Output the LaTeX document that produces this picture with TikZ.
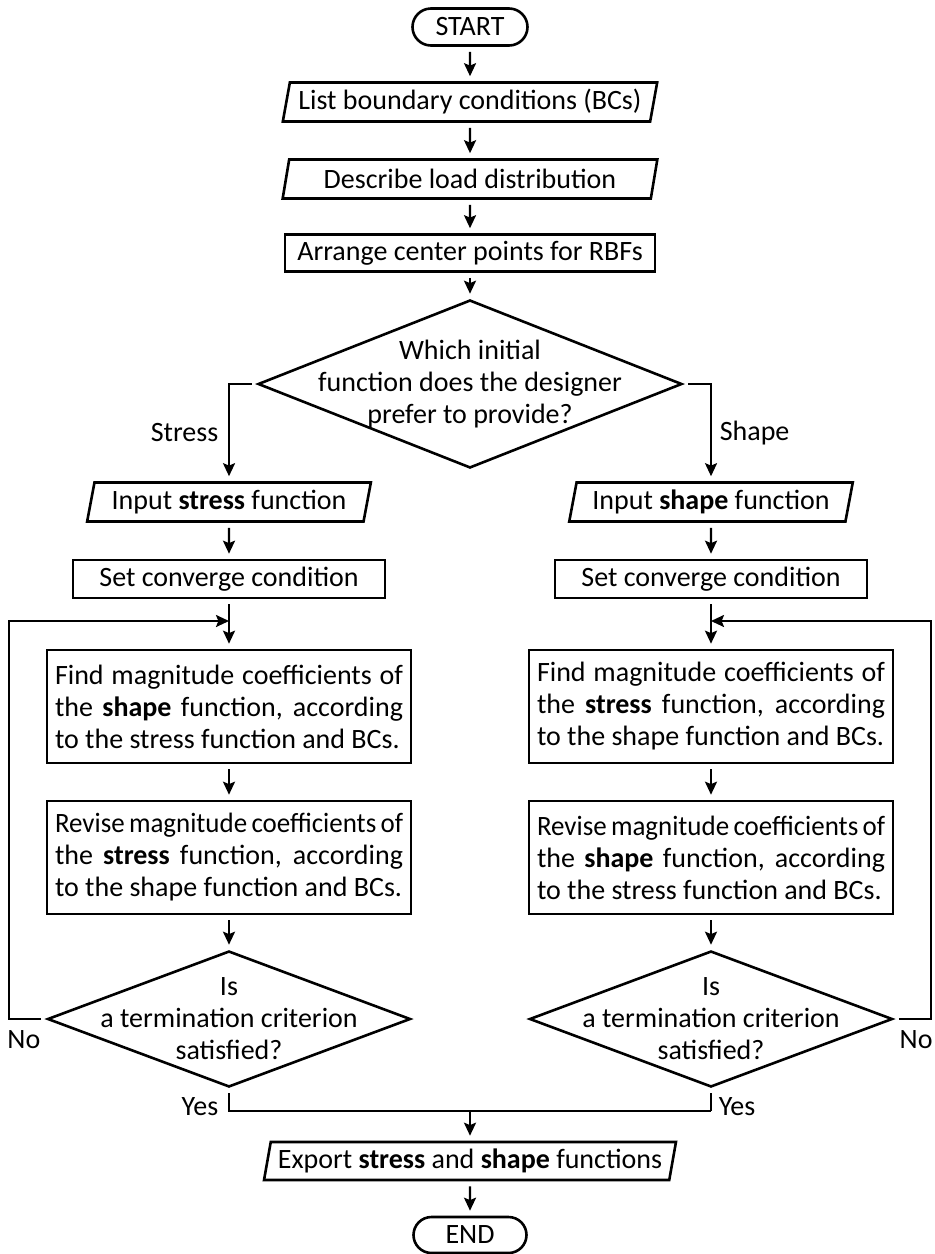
\documentclass[tikz,border=0pt]{standalone}
\usepackage{fontspec}
\setmainfont{Carlito}
\usetikzlibrary{shapes.geometric,shapes.misc,arrows.meta}
\newcommand{\fitline}[1]{\resizebox{\linewidth}{\height}{\spaceskip=0.16em\relax #1}}
\begin{document}
\begin{tikzpicture}[x=0.5pt,y=-0.5pt,
  font=\fontsize{14}{16}\selectfont,
  term/.style={draw, rounded rectangle, minimum width=57.5pt, minimum height=18.5pt, line width=1.3pt, inner sep=0pt},
  io/.style={draw, trapezium, trapezium left angle=75, trapezium right angle=105, trapezium stretches=true, line width=1.3pt, minimum height=19.5pt, inner sep=0pt},
  proc/.style={draw, rectangle, line width=1.3pt, minimum height=19pt, inner sep=0pt},
  bigproc/.style={draw, rectangle, line width=1.3pt, minimum height=56.5pt, minimum width=182pt, text width=174pt, inner xsep=4pt, inner ysep=0pt, align=justify, execute at begin node={\hyphenpenalty=10000\relax}},
  dec/.style={draw, diamond, line width=1.3pt, inner sep=0pt},
  arr/.style={-{Stealth[length=6.5pt,width=6pt,inset=1.2pt]}, line width=1.1pt, shorten >=2.5pt, shorten <=2.5pt},
  lin/.style={line width=1.1pt}]
\useasboundingbox (0,0) rectangle (934,1254);
\node[term] (start) at (470,27) {START};
\node[io, minimum width=187.5pt] (p1) at (470,102) {List boundary conditions (BCs)};
\node[io, minimum width=187.5pt] (p2) at (470,179) {Describe load distribution};
\node[proc, minimum width=185pt, minimum height=18.5pt] (arrange) at (470,253) {Arrange center points for RBFs};
\node[dec, minimum width=212pt, minimum height=84pt,
  label={[align=center]center:{Which initial\\function does the designer\\prefer to provide?}}] (d1) at (470,384) {};
\node[io, minimum width=142pt] (in1) at (229,502) {Input \textbf{stress} function};
\node[io, minimum width=142pt] (in2) at (711,502) {Input \textbf{shape} function};
\node[proc, minimum width=156pt] (sc1) at (229,579) {Set converge condition};
\node[proc, minimum width=156pt] (sc2) at (711,579) {Set converge condition};
\coordinate (j1) at (229,621);
\coordinate (j2) at (711,621);
\node[bigproc] (f1) at (229,706.5) {Find magnitude coefficients of\linebreak the \textbf{shape} function, according\linebreak to the stress function and BCs.};
\node[bigproc] (f2) at (711,706.5) {Find magnitude coefficients of\linebreak the \textbf{stress} function, according\linebreak to the shape function and BCs.};
\node[bigproc] (r1) at (229,857.5) {\fitline{Revise magnitude coefficients of}\linebreak the \textbf{stress} function, according\linebreak to the shape function and BCs.};
\node[bigproc] (r2) at (711,857.5) {\fitline{Revise magnitude coefficients of}\linebreak the \textbf{shape} function, according\linebreak to the stress function and BCs.};
\node[dec, minimum width=181.5pt, minimum height=68pt,
  label={[align=center]center:{Is\\a termination criterion\\satisfied?}}] (d2) at (229,1019) {};
\node[dec, minimum width=181.5pt, minimum height=68pt,
  label={[align=center]center:{Is\\a termination criterion\\satisfied?}}] (d3) at (711,1019) {};
\coordinate (m) at (470,1111);
\node[io, minimum width=206pt, minimum height=19pt] (exp) at (470,1161) {Export \textbf{stress} and \textbf{shape} functions};
\node[term, minimum width=56.5pt, minimum height=18pt] (end) at (470,1235) {END};
\coordinate (cl) at (9,1019);
\coordinate (cr) at (931,1019);
% connectors
\draw[arr] (start) -- (p1);
\draw[arr] (p1) -- (p2);
\draw[arr] (p2) -- (arrange);
\draw[arr] (arrange) -- (d1);
\draw[arr] (d1.west) -| node[pos=0.75, left=1.5pt] {Stress} (in1.north);
\draw[arr] (d1.east) -| node[pos=0.75, right=0.5pt] {Shape} (in2.north);
\draw[arr] (in1) -- (sc1);
\draw[arr] (in2) -- (sc2);
\draw[arr] (sc1) -- (f1);
\draw[arr] (sc2) -- (f2);
\draw[arr] (f1) -- (r1);
\draw[arr] (f2) -- (r2);
\draw[arr] (r1) -- (d2);
\draw[arr] (r2) -- (d3);
\draw[arr, shorten >=0pt] (d2.west) -- node[pos=0.6, below=2pt] {No} (cl) |- (j1);
\draw[arr, shorten >=0pt] (d3.east) -- node[pos=0.6, below=2pt] {No} (cr) |- (j2);
\draw[lin, shorten <=2.5pt] (d2.south) -- node[pos=0.8, left=1.5pt] {Yes} (d2.south |- m) -- (d3.south |- m);
\draw[lin, shorten >=2.5pt] (d3.south |- m) -- node[pos=0.2, right=0pt] {Yes} (d3.south);
\draw[arr, shorten <=0pt] (m) -- (exp);
\draw[arr] (exp) -- (end);
\end{tikzpicture}
\end{document}
